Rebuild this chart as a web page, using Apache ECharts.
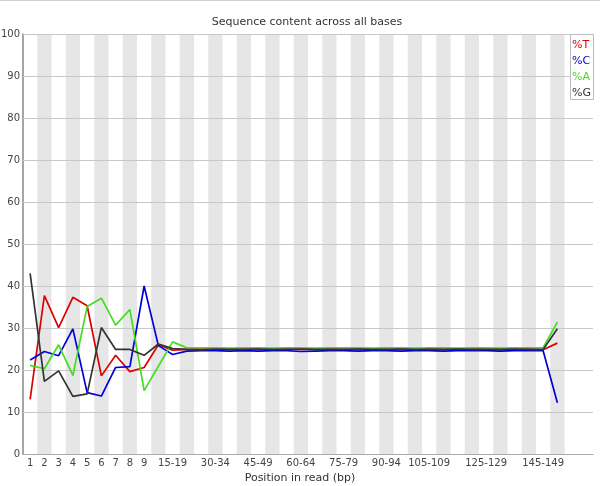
<!DOCTYPE html>
<html>
<head>
<meta charset="utf-8">
<script src="https://cdn.jsdelivr.net/npm/echarts@6/dist/echarts.min.js"></script>
<style>html,body{margin:0;padding:0;background:#fff}#c{width:600px;height:486px}</style>
</head>
<body>
<div id="c"></div>
<script>
const categories = ['1','2','3','4','5','6','7','8','9','10-14','15-19','20-24','25-29','30-34','35-39','40-44','45-49','50-54','55-59','60-64','65-69','70-74','75-79','80-84','85-89','90-94','95-99','100-104','105-109','110-114','115-119','120-124','125-129','130-134','135-139','140-144','145-149','150-151'];
const shownTickLabels = ['1','2','3','4','5','6','7','8','9','15-19','30-34','45-49','60-64','75-79','90-94','105-109','125-129','145-149'];
const yTicks = [0,10,20,30,40,50,60,70,80,90,100];
const seriesNames = ['%T','%C','%A','%G'];
const pctT = [13.0,37.7,30.1,37.3,35.3,18.6,23.5,19.6,20.6,26.0,24.7,24.9,25.0,24.9,24.9,25.0,24.9,24.9,25.0,24.9,24.9,25.0,24.9,24.9,25.0,24.9,24.9,24.9,25.0,24.9,24.9,25.0,24.9,24.9,24.9,25.0,24.8,26.4];
const pctC = [22.4,24.4,23.4,29.8,14.6,13.8,20.6,20.8,40.0,25.8,23.7,24.5,24.6,24.6,24.5,24.6,24.5,24.6,24.6,24.4,24.5,24.6,24.6,24.5,24.6,24.6,24.5,24.6,24.6,24.5,24.6,24.6,24.6,24.5,24.6,24.6,24.6,12.2];
const pctA = [21.1,20.3,26.0,18.7,35.1,37.1,30.7,34.4,15.1,20.9,26.7,25.3,25.3,25.3,25.2,25.3,25.3,25.2,25.3,25.3,25.2,25.3,25.3,25.3,25.2,25.3,25.3,25.2,25.3,25.3,25.2,25.3,25.3,25.2,25.3,25.3,25.3,31.4];
const pctG = [43.0,17.3,19.8,13.7,14.3,30.1,24.9,24.9,23.5,26.2,25.1,24.9,24.8,25.0,24.9,24.9,25.0,24.9,24.9,25.0,24.9,24.9,24.9,25.0,24.9,24.9,25.0,24.9,24.9,24.9,25.0,24.9,24.9,24.9,25.0,24.9,24.9,29.8];

const colors = ['#dd0000','#0000dd','#44dd22','#333333'];
const font = 'DejaVu Sans';
// two empty trailing bands to leave white space on the right of the plot
const axisCats = categories.concat(['', ' ']);
const stripeData = axisCats.map((c, i) => (i % 2 === 1 && i < categories.length) ? 100 : null);
const values = [pctT, pctC, pctA, pctG];

const chart = echarts.init(document.getElementById('c'), null, {renderer: 'canvas'});
const lineSeries = seriesNames.map((n, k) => ({
  name: n, type: 'line', data: values[k], symbol: 'none', z: 5,
  lineStyle: {color: colors[k], width: 1.7}, itemStyle: {color: colors[k]}
}));
chart.setOption({
  animation: false,
  backgroundColor: '#fff',
  grid: {left: 23, top: 34, right: 7, bottom: 32, containLabel: false, outerBoundsMode: 'none'},
  xAxis: {
    type: 'category', data: axisCats, boundaryGap: true,
    axisLine: {show: true, lineStyle: {color: '#aaaaaa', width: 1}},
    axisTick: {show: false},
    axisLabel: {interval: 0, margin: 4, color: '#444', fontFamily: font, fontSize: 10,
      formatter: v => shownTickLabels.includes(v) ? v : ''},
    splitLine: {show: false}
  },
  yAxis: {
    type: 'value', min: 0, max: 100, interval: 10,
    axisLine: {show: true, lineStyle: {color: '#888888', width: 1.5}},
    axisTick: {show: false},
    axisLabel: {margin: 3, color: '#444', fontFamily: font, fontSize: 10},
    splitLine: {show: false}
  },
  series: [{
    type: 'bar', data: stripeData, barWidth: '100%', silent: true, z: 1,
    itemStyle: {color: '#e6e6e6'},
    markLine: {
      silent: true, symbol: 'none', label: {show: false},
      lineStyle: {color: '#c8c8c8', type: 'solid', width: 1},
      data: yTicks.filter(v => v > 0).map(v => ({yAxis: v}))
    }
  }].concat(lineSeries),
  graphic: [
    {type: 'line', shape: {x1: 0, y1: 0.5, x2: 600, y2: 0.5}, style: {stroke: '#d0d0d0', lineWidth: 1}},
    {type: 'text', x: 307, y: 22, style: {text: 'Sequence content across all bases', fontFamily: font, fontSize: 11, fill: '#333', textAlign: 'center', textVerticalAlign: 'middle'}},
    {type: 'text', x: 300, y: 478, style: {text: 'Position in read (bp)', fontFamily: font, fontSize: 11, fill: '#333', textAlign: 'center', textVerticalAlign: 'middle'}},
    {type: 'rect', z: 10, shape: {x: 570.5, y: 34.5, width: 23, height: 65}, style: {fill: '#fff', stroke: '#bbbbbb', lineWidth: 1}},
    ...seriesNames.map((n, k) => ({type: 'text', z: 11, x: 572, y: 45 + k * 16, style: {text: n, fontFamily: font, fontSize: 11, fill: colors[k], textAlign: 'left', textVerticalAlign: 'middle'}}))
  ]
});
</script>
</body>
</html>
